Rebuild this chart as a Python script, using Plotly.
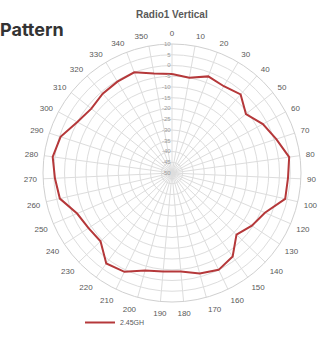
import plotly.graph_objects as go

# Azimuth labels (degrees) and measured gain (dB) for the 2.45 GHz vertical cut
angles = ["0", "10", "20", "30", "40", "50", "60", "70", "80", "90", "100",
          "120", "130", "140", "150", "160", "170", "180", "190", "200", "210",
          "220", "230", "240", "250", "260", "270", "280", "290", "300", "310",
          "320", "330", "340", "350"]
gain_245 = [-4, -5, -2, -3, -1.5, -6, -2, 1, 5, 4, 4,
            -3, -5.5, -8.5, -2, 0, -1.5, -4, -4, -3, 1,
            2, -4, -3.5, -2, 3.5, 4.5, 6, 4.5, 0, -2,
            -1, -0.5, 0, -3]
radial_ticks = [10, 5, 0, -5, -10, -15, -20, -25, -30, -35, -40, -45, -50]

W, H = 328, 358
cx, cy, R = 172, 173, 129

fig = go.Figure()
fig.add_trace(go.Scatterpolar(
    r=gain_245 + [gain_245[0]],
    theta=angles + [angles[0]],
    mode="lines",
    line=dict(color="#b5383a", width=2),
    name="2.45GH",
))

fig.update_layout(
    width=W, height=H,
    margin=dict(l=0, r=0, t=0, b=0),
    paper_bgcolor="white",
    showlegend=True,
    legend=dict(x=80 / W, y=1 - 308 / H, xanchor="left", yanchor="top",
                font=dict(family="Liberation Sans, Arial", size=7, color="#595959"),
                bgcolor="rgba(0,0,0,0)", itemwidth=30),
    polar=dict(
        domain=dict(x=[(cx - R) / W, (cx + R) / W],
                    y=[1 - (cy + R) / H, 1 - (cy - R) / H]),
        bgcolor="white",
        angularaxis=dict(
            type="category",
            categoryorder="array",
            categoryarray=angles,
            rotation=90,
            direction="clockwise",
            showgrid=True,
            gridcolor="#dddddd",
            gridwidth=1,
            showline=True,
            linecolor="#d0d0d0",
            linewidth=1,
            ticks="outside",
            ticklen=4,
            tickcolor="rgba(0,0,0,0)",
            tickfont=dict(family="Liberation Sans, Arial", size=8, color="#595959"),
        ),
        radialaxis=dict(
            range=[-50, 10],
            tickvals=radial_ticks,
            ticktext=[str(v) for v in radial_ticks],
            angle=90,
            tickangle=90,
            side="counterclockwise",
            showline=False,
            showgrid=True,
            gridcolor="#dddddd",
            gridwidth=1,
            ticks="",
            tickfont=dict(family="Liberation Sans, Arial", size=6, color="#999999"),
        ),
    ),
    annotations=[
        dict(text="<b>Radio1 Vertical</b>", x=172 / W, y=1 - 14 / H,
             xref="paper", yref="paper", showarrow=False,
             xanchor="center", yanchor="middle",
             font=dict(family="Liberation Sans, Arial", size=10, color="#595959")),
        dict(text="<b>Pattern</b>", x=66 / W, y=1 - 29 / H,
             xref="paper", yref="paper", showarrow=False,
             xanchor="right", yanchor="middle",
             font=dict(family="Inter, Liberation Sans", size=18, color="#333333")),
    ],
)

fig.write_html("out.html")
